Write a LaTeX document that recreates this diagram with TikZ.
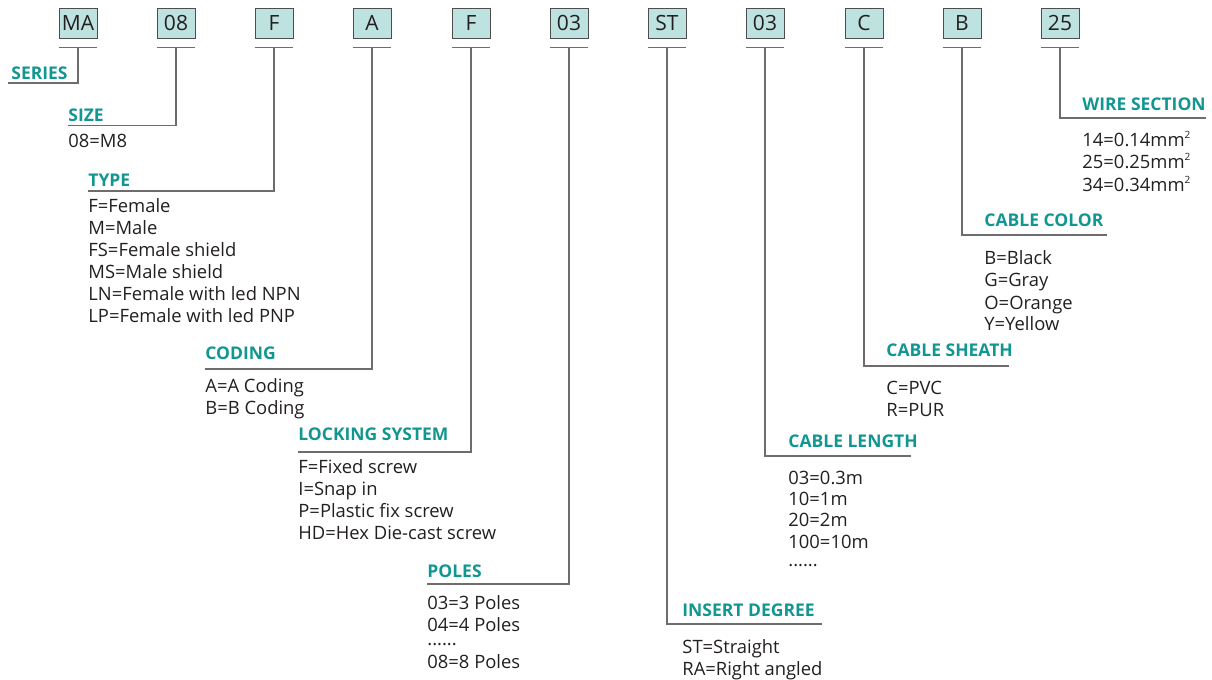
\documentclass[tikz,border=0pt]{standalone}
\usepackage{fontspec}
\setmainfont{Open Sans}
\usetikzlibrary{positioning, calc}
\definecolor{codeteal}{RGB}{18, 150, 145}
\definecolor{codefill}{RGB}{190, 226, 224}
\definecolor{linegray}{RGB}{112, 108, 108}
\definecolor{textdark}{RGB}{35, 31, 32}
\tikzstyle{codebox} = [draw=linegray!70!black, fill=codefill, minimum width=19pt, minimum height=15pt, inner sep=0pt, text=textdark, font=\fontsize{10.5}{12}\selectfont]
\tikzstyle{heading} = [anchor=base west, inner sep=0pt, text=codeteal, font=\bfseries\fontsize{8.75}{10}\selectfont]
\tikzstyle{values} = [anchor=base west, inner sep=0pt, align=left, text=textdark, font=\fontsize{9.2}{11}\selectfont]
\tikzstyle{rule} = [draw=linegray, line width=0.65pt]

\begin{document}
\begin{tikzpicture}[x=0.5pt, y=-0.5pt]
    \useasboundingbox (0,0) rectangle (1212,680);

    % Code boxes
    \node[codebox] (ma) at (78, 23) {MA};
    \node[codebox] (sz) at (176, 23) {08};
    \node[codebox] (ty) at (274, 23) {F};
    \node[codebox] (cd) at (372, 23) {A};
    \node[codebox] (lk) at (471, 23) {F};
    \node[codebox] (pl) at (569, 23) {03};
    \node[codebox] (ins) at (667, 23) {ST};
    \node[codebox] (len) at (765, 23) {03};
    \node[codebox] (sh) at (864, 23) {C};
    \node[codebox] (col) at (962, 23) {B};
    \node[codebox] (ws) at (1060, 23) {25};
    \foreach \b in {ma, sz, ty, cd, lk, pl, ins, len, sh, col, ws}
        \draw[rule] ([yshift=-4.5pt]\b.south west) -- ([yshift=-4.5pt]\b.south east);

    % Series
    \coordinate (seriesend) at (8, 83);
    \node[heading] (series) at (11, 79) {SERIES};
    \draw[rule] ([yshift=-4.5pt]ma.south) |- (seriesend);

    % Size (value lists sit on the baseline of their last line)
    \coordinate (sizeend) at (68, 125.5);
    \node[heading] (size) at (68, 121) {SIZE};
    \node[values] (sizev) at (68, 147.5) {08=M8};
    \draw[rule] ([yshift=-4.5pt]sz.south) |- (sizeend);

    % Type
    \coordinate (typeend) at (88, 191);
    \node[heading] (type) at (88, 186) {TYPE};
    \node[values] (typev) at (88, 322.5) {F=Female\\M=Male\\FS=Female shield\\MS=Male shield\\LN=Female with led NPN\\LP=Female with led PNP};
    \draw[rule] ([yshift=-4.5pt]ty.south) |- (typeend);

    % Coding
    \coordinate (codingend) at (205, 369);
    \node[heading] (coding) at (205, 359) {CODING};
    \node[values] (codingv) at (205, 414) {A=A Coding\\B=B Coding};
    \draw[rule] ([yshift=-4.5pt]cd.south) |- (codingend);

    % Locking system
    \coordinate (lockend) at (298, 452);
    \node[heading] (lock) at (298, 440.5) {LOCKING SYSTEM};
    \node[values] (lockv) at (298, 539) {F=Fixed screw\\I=Snap in\\P=Plastic fix screw\\HD=Hex Die-cast screw};
    \draw[rule] ([yshift=-4.5pt]lk.south) |- (lockend);

    % Poles
    \coordinate (polesend) at (427, 584);
    \node[heading] (poles) at (427, 577) {POLES};
    \node[values] (polesv) at (427, 668.3) {03=3 Poles\\04=4 Poles\\[-4.35pt]......\\[0.65pt]08=8 Poles};
    \draw[rule] ([yshift=-4.5pt]pl.south) |- (polesend);

    % Insert degree
    \coordinate (insertend) at (822, 624);
    \node[heading] (insert) at (682, 616.5) {INSERT DEGREE};
    \node[values] (insertv) at (682, 675) {ST=Straight\\RA=Right angled};
    \draw[rule] ([yshift=-4.5pt]ins.south) |- (insertend);

    % Cable length
    \coordinate (lengthend) at (911, 456);
    \node[heading] (length) at (788, 447) {CABLE LENGTH};
    \node[values] (lengthv) at (788, 566.7) {03=0.3m\\[-0.3pt]10=1m\\[-0.3pt]20=2m\\[-0.3pt]100=10m\\[-1.8pt]......};
    \draw[rule] ([yshift=-4.5pt]len.south) |- (lengthend);

    % Cable sheath
    \coordinate (sheathend) at (1009, 366);
    \node[heading] (sheath) at (886, 356.5) {CABLE SHEATH};
    \node[values] (sheathv) at (886, 416) {C=PVC\\R=PUR};
    \draw[rule] ([yshift=-4.5pt]sh.south) |- (sheathend);

    % Cable color
    \coordinate (colorend) at (1107, 235);
    \node[heading] (color) at (984, 226.5) {CABLE COLOR};
    \node[values] (colorv) at (984, 330.5) {B=Black\\G=Gray\\[0.6pt]O=Orange\\[-0.6pt]Y=Yellow};
    \draw[rule] ([yshift=-4.5pt]col.south) |- (colorend);

    % Wire section
    \coordinate (wireend) at (1206, 118);
    \node[heading] (wire) at (1082, 110) {WIRE SECTION};
    \node[values] (wirev) at (1082, 191.5) {14=0.14mm\textsuperscript{\tiny 2}\\25=0.25mm\textsuperscript{\tiny 2}\\[0.6pt]34=0.34mm\textsuperscript{\tiny 2}};
    \draw[rule] ([yshift=-4.5pt]ws.south) |- (wireend);
\end{tikzpicture}
\end{document}
